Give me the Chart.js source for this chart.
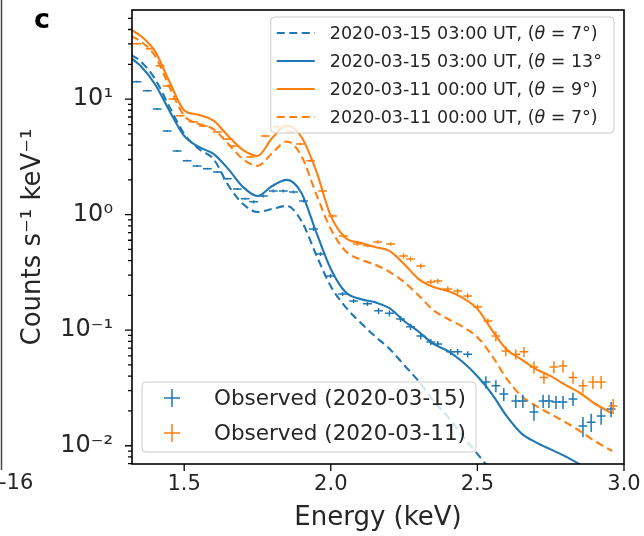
<!DOCTYPE html>
<html>
<head>
<meta charset="utf-8">
<script src="https://cdn.jsdelivr.net/npm/chart.js@4.4.1/dist/chart.umd.min.js"></script>
<style>
  html, body { margin: 0; padding: 0; background: #fff; }
  #wrap { width: 644px; height: 536px; position: relative; }
</style>
</head>
<body>
<div id="wrap"><canvas id="spectrumChart"></canvas></div>
<script>
const BLUE = '#1f77b4';
const ORANGE = '#ff7f0e';
const TEXT = '#262626';
const FONT = "'DejaVu Sans', sans-serif";

// ==========================
// DATA
// ==========================
const modelEnergy = [1.32, 1.35, 1.40, 1.45, 1.50, 1.55, 1.60, 1.65, 1.70, 1.75, 1.80, 1.85, 1.90, 1.95,
  2.00, 2.05, 2.10, 2.15, 2.20, 2.25, 2.30, 2.35, 2.40, 2.45, 2.50, 2.55, 2.60, 2.65, 2.70, 2.75,
  2.80, 2.85, 2.90, 2.96];

const model0315th7 = [24, 21.4, 15.0, 8.56, 5.0, 3.7, 3.03, 1.80, 1.24, 1.055, 1.12, 1.19, 0.88, 0.45,
  0.24, 0.159, 0.117, 0.089, 0.069, 0.050, 0.036, 0.0244, 0.0177, 0.0121, 0.0085, 0.0060, 0.0043];
const model0315th13 = [22.5, 19.5, 13.5, 7.9, 4.8, 3.85, 3.36, 2.49, 1.74, 1.45, 1.77, 2.0, 1.54, 0.708,
  0.339, 0.214, 0.186, 0.175, 0.155, 0.12, 0.097, 0.076, 0.066, 0.053, 0.040, 0.028, 0.018, 0.0128,
  0.0107, 0.0093, 0.0081, 0.0069, 0.0058, 0.0048];
const model0311th9 = [39.5, 35.5, 26, 14.1, 8.0, 7.3, 6.5, 4.8, 3.63, 3.22, 4.6, 5.9, 4.7, 2.4,
  0.974, 0.63, 0.57, 0.525, 0.485, 0.374, 0.277, 0.236, 0.218, 0.19, 0.153, 0.10, 0.068, 0.056,
  0.046, 0.040, 0.0336, 0.0286, 0.0232, 0.0190];
const model0311th7 = [35, 31.8, 23.7, 12.7, 7.16, 6.1, 5.5, 4.1, 3.03, 2.64, 3.4, 4.3, 3.22, 1.51,
  0.75, 0.485, 0.41, 0.37, 0.32, 0.261, 0.2, 0.149, 0.125, 0.107, 0.087, 0.060, 0.038, 0.027,
  0.0221, 0.0188, 0.016, 0.0134, 0.011, 0.0090];

const obsEnergy0315 = [1.339, 1.374, 1.408, 1.442, 1.476, 1.510, 1.544, 1.579, 1.613, 1.647, 1.681, 1.708,
  1.737, 1.770, 1.804, 1.838, 1.873, 1.907, 1.941, 1.965, 1.999, 2.040, 2.078, 2.125, 2.163, 2.200,
  2.238, 2.272, 2.307, 2.341, 2.365, 2.409, 2.433, 2.467, 2.529, 2.563, 2.590, 2.631, 2.655, 2.693,
  2.724, 2.744, 2.768, 2.792, 2.826, 2.860, 2.888, 2.922, 2.956];
const obsCounts0315 = [14.1, 11.8, 8.2, 5.3, 3.56, 2.92, 2.64, 2.49, 2.34, 2.04, 1.67, 1.37,
  1.29, 1.45, 1.60, 1.60, 1.57, 1.31, 0.75, 0.457, 0.295, 0.206, 0.179, 0.169, 0.147, 0.140,
  0.125, 0.107, 0.089, 0.079, 0.076, 0.065, 0.065, 0.062, 0.0356, 0.033, 0.028, 0.0244, 0.0244, 0.0196,
  0.0244, 0.0244, 0.0239, 0.0239, 0.0254, 0.0148, 0.016, 0.0181, 0.0208];
const obsErr0315 = [0.02, 0.02, 0.02, 0.02, 0.02, 0.02, 0.02, 0.02, 0.02, 0.02, 0.02, 0.02,
  0.03, 0.03, 0.03, 0.03, 0.03, 0.03, 0.04, 0.04, 0.04, 0.04, 0.04, 0.04, 0.06, 0.06,
  0.06, 0.06, 0.06, 0.06, 0.06, 0.06, 0.06, 0.06, 0.12, 0.12, 0.13, 0.13, 0.13, 0.16,
  0.13, 0.13, 0.13, 0.13, 0.13, 0.2, 0.18, 0.16, 0.15];

const obsEnergy0311 = [1.339, 1.384, 1.418, 1.442, 1.462, 1.486, 1.531, 1.565, 1.613, 1.647, 1.667, 1.726,
  1.777, 1.818, 1.862, 1.896, 1.931, 1.972, 2.006, 2.043, 2.091, 2.125, 2.160, 2.204, 2.248, 2.272,
  2.307, 2.341, 2.365, 2.399, 2.433, 2.467, 2.501, 2.536, 2.563, 2.597, 2.631, 2.659, 2.693, 2.727,
  2.761, 2.792, 2.826, 2.860, 2.894, 2.922, 2.963];
const obsCounts0311 = [30.1, 27.2, 19.4, 13.0, 10.0, 7.16, 6.35, 5.86, 5.20, 4.52, 3.93, 3.16,
  4.80, 5.75, 5.20, 4.09, 2.92, 1.60, 0.974, 0.654, 0.557, 0.54, 0.58, 0.557, 0.439, 0.413,
  0.36, 0.261, 0.266, 0.227, 0.218, 0.198, 0.159, 0.12, 0.089, 0.066, 0.062, 0.065, 0.048, 0.039,
  0.048, 0.049, 0.039, 0.033, 0.0356, 0.0356, 0.0221];
const obsErr0311 = [0.02, 0.02, 0.02, 0.02, 0.02, 0.02, 0.02, 0.02, 0.02, 0.02, 0.02, 0.02,
  0.025, 0.025, 0.025, 0.025, 0.025, 0.025, 0.035, 0.035, 0.035, 0.035, 0.035, 0.035, 0.05, 0.05,
  0.05, 0.05, 0.05, 0.05, 0.05, 0.05, 0.05, 0.05, 0.1, 0.1, 0.1, 0.1, 0.12, 0.12,
  0.12, 0.12, 0.12, 0.13, 0.13, 0.13, 0.15];
const binHalfWidth = 0.015; // keV

const modelLabels = [
  '2020-03-15 03:00 UT, (θ = 7°)',
  '2020-03-15 03:00 UT, (θ = 13°',
  '2020-03-11 00:00 UT, (θ = 9°)',
  '2020-03-11 00:00 UT, (θ = 7°)'
];
const obsLabels = ['Observed (2020-03-15)', 'Observed (2020-03-11)'];

const xTickValues = [1.5, 2.0, 2.5, 3.0];
const xTickLabels = ['1.5', '2.0', '2.5', '3.0'];
const yTickValues = [0.01, 0.1, 1, 10];
const yTickLabels = ['10⁻²', '10⁻¹', '10⁰', '10¹'];

// ==========================
// HELPERS
// ==========================
function pts(xs, ys){
  return xs.map((x, i) => ({ x, y: ys[i] })).filter(p => p.y != null);
}

function labelParts(text){
  const i = text.indexOf('θ');
  if(i < 0) return [{ t: text, it: false }];
  return [{ t: text.slice(0, i), it: false }, { t: 'θ', it: true }, { t: text.slice(i + 1), it: false }];
}

function drawLabel(ctx, text, x, y, size, measureOnly){
  const x0 = x;
  labelParts(text).forEach(p => {
    ctx.font = (p.it ? 'italic ' : '') + size + 'px ' + FONT;
    if(!measureOnly) ctx.fillText(p.t, x, y);
    x += ctx.measureText(p.t).width;
  });
  return x - x0;
}

function roundBox(ctx, x, y, w, h, r){
  ctx.beginPath();
  ctx.moveTo(x + r, y);
  ctx.lineTo(x + w - r, y); ctx.arcTo(x + w, y, x + w, y + r, r);
  ctx.lineTo(x + w, y + h - r); ctx.arcTo(x + w, y + h, x + w - r, y + h, r);
  ctx.lineTo(x + r, y + h); ctx.arcTo(x, y + h, x, y + h - r, r);
  ctx.lineTo(x, y + r); ctx.arcTo(x, y, x + r, y, r);
  ctx.closePath();
}

// ==========================
// PLUGIN: error bars, frame, ticks, legends
// ==========================
const decorPlugin = {
  id: 'decor',
  afterDatasetsDraw(chart){
    const { ctx, chartArea: a, scales: { x, y } } = chart;
    ctx.save();
    ctx.beginPath();
    ctx.rect(a.left, a.top, a.right - a.left, a.bottom - a.top);
    ctx.clip();
    ctx.lineWidth = 1.5;
    chart.data.datasets.forEach(ds => {
      if(!ds.errs) return;
      ctx.strokeStyle = ds.borderColor;
      ds.data.forEach((p, j) => {
        const px = x.getPixelForValue(p.x);
        const py = y.getPixelForValue(p.y);
        ctx.beginPath();
        ctx.moveTo(x.getPixelForValue(p.x - binHalfWidth), py);
        ctx.lineTo(x.getPixelForValue(p.x + binHalfWidth), py);
        ctx.moveTo(px, y.getPixelForValue(p.y * (1 - ds.errs[j])));
        ctx.lineTo(px, y.getPixelForValue(p.y * (1 + ds.errs[j])));
        ctx.stroke();
      });
    });
    ctx.restore();
  },
  afterDraw(chart){
    const { ctx, chartArea: a, scales: { x, y } } = chart;
    ctx.save();

    // tick marks
    ctx.strokeStyle = '#000';
    ctx.lineWidth = 1.3;
    ctx.beginPath();
    xTickValues.forEach(v => {
      const px = x.getPixelForValue(v);
      ctx.moveTo(px, a.bottom); ctx.lineTo(px, a.bottom + 7);
    });
    for(let d = 0.001; d <= 100; d *= 10){
      for(let k = 1; k <= 9; k++){
        const v = d * k;
        if(v < y.min || v > y.max) continue;
        const py = y.getPixelForValue(v);
        ctx.moveTo(a.left, py); ctx.lineTo(a.left - (k === 1 ? 7 : 4), py);
      }
    }
    ctx.stroke();

    // frame
    ctx.lineWidth = 1.6;
    ctx.strokeRect(a.left, a.top, a.right - a.left, a.bottom - a.top);

    // model legend (upper right)
    const models = chart.data.datasets.filter(d => !d.errs);
    const fs = 17.5;
    const textW = Math.max(...models.map(d => drawLabel(ctx, d.label, 0, 0, fs, true)));
    const boxW = 59 + textW + 12;
    const boxX = a.right - 10 - boxW, boxY = a.top + 7;
    roundBox(ctx, boxX, boxY, boxW, 116, 4);
    ctx.fillStyle = 'rgba(255,255,255,0.8)';
    ctx.fill();
    ctx.strokeStyle = '#cccccc';
    ctx.lineWidth = 1;
    ctx.stroke();
    ctx.textBaseline = 'middle';
    ctx.textAlign = 'left';
    models.forEach((d, i) => {
      const cy = boxY + 16 + i * 28;
      ctx.strokeStyle = d.borderColor;
      ctx.lineWidth = 2;
      ctx.setLineDash(d.borderDash || []);
      ctx.beginPath(); ctx.moveTo(boxX + 6, cy); ctx.lineTo(boxX + 44, cy); ctx.stroke();
      ctx.setLineDash([]);
      ctx.fillStyle = TEXT;
      drawLabel(ctx, d.label, boxX + 59, cy + 1, fs, false);
    });

    // observed legend (lower left)
    const obs = chart.data.datasets.filter(d => d.errs);
    const ofs = 21.5;
    ctx.font = ofs + 'px ' + FONT;
    const oW = Math.max(...obs.map(d => ctx.measureText(d.label).width));
    const oX = a.left + 10, oH = 70, oY = a.bottom - 12 - oH;
    roundBox(ctx, oX, oY, 72 + oW + 10, oH, 4);
    ctx.fillStyle = 'rgba(255,255,255,0.8)';
    ctx.fill();
    ctx.strokeStyle = '#cccccc';
    ctx.lineWidth = 1;
    ctx.stroke();
    obs.forEach((d, i) => {
      const cy = oY + 16 + i * 35;
      ctx.strokeStyle = d.borderColor;
      ctx.lineWidth = 1.5;
      ctx.beginPath();
      ctx.moveTo(oX + 22, cy); ctx.lineTo(oX + 38, cy);
      ctx.moveTo(oX + 30, cy - 9); ctx.lineTo(oX + 30, cy + 9);
      ctx.stroke();
      ctx.fillStyle = TEXT;
      ctx.font = ofs + 'px ' + FONT;
      ctx.fillText(d.label, oX + 72, cy + 1);
    });

    // panel letter and the cut-off neighbour panel
    ctx.fillStyle = '#000';
    ctx.font = 'bold 27px ' + FONT;
    ctx.textBaseline = 'alphabetic';
    ctx.fillText('c', 34, 28);
    ctx.fillStyle = TEXT;
    ctx.font = '21px ' + FONT;
    ctx.textBaseline = 'middle';
    ctx.fillText('-16', -1, 484);
    ctx.strokeStyle = '#444';
    ctx.lineWidth = 1.5;
    ctx.beginPath(); ctx.moveTo(1.5, 0); ctx.lineTo(1.5, 470); ctx.stroke();

    ctx.restore();
  }
};

// ==========================
// CHART
// ==========================
const modelStyle = { pointRadius: 0, borderWidth: 2.1, fill: false, cubicInterpolationMode: 'monotone', showLine: true };

new Chart(document.getElementById('spectrumChart'), {
  type: 'scatter',
  data: {
    datasets: [
      { ...modelStyle, label: modelLabels[0], data: pts(modelEnergy, model0315th7), borderColor: BLUE, borderDash: [8, 4.5] },
      { ...modelStyle, label: modelLabels[1], data: pts(modelEnergy, model0315th13), borderColor: BLUE },
      { ...modelStyle, label: modelLabels[2], data: pts(modelEnergy, model0311th9), borderColor: ORANGE },
      { ...modelStyle, label: modelLabels[3], data: pts(modelEnergy, model0311th7), borderColor: ORANGE, borderDash: [8, 4.5] },
      { label: obsLabels[0], data: pts(obsEnergy0315, obsCounts0315), errs: obsErr0315, borderColor: BLUE, pointRadius: 0, showLine: false },
      { label: obsLabels[1], data: pts(obsEnergy0311, obsCounts0311), errs: obsErr0311, borderColor: ORANGE, pointRadius: 0, showLine: false }
    ]
  },
  options: {
    responsive: true,
    maintainAspectRatio: false,
    animation: false,
    layout: { padding: { left: 0, right: 20, top: 10, bottom: 0 } },
    plugins: { legend: { display: false }, tooltip: { enabled: false } },
    scales: {
      x: {
        type: 'linear',
        min: 1.322,
        max: 3.0,
        afterBuildTicks: s => { s.ticks = xTickValues.map(v => ({ value: v })); },
        afterFit: s => { s.height = 72; s.paddingLeft = 0; s.paddingRight = 0; },
        grid: { display: false, drawTicks: false },
        border: { display: false },
        ticks: { color: TEXT, font: { family: FONT, size: 21 }, padding: 8, maxRotation: 0, autoSkip: false,
          callback: (v, i) => xTickLabels[i] },
        title: { display: true, text: 'Energy (keV)', color: TEXT, font: { family: FONT, size: 26 }, padding: { top: 0, bottom: 2 } }
      },
      y: {
        type: 'logarithmic',
        min: 0.00695,
        max: 59,
        afterBuildTicks: s => { s.ticks = yTickValues.map(v => ({ value: v })); },
        afterFit: s => { s.width = 132; s.paddingTop = 0; s.paddingBottom = 0; },
        grid: { display: false, drawTicks: false },
        border: { display: false },
        ticks: { color: TEXT, font: { family: FONT, size: 24 }, padding: 19, autoSkip: false,
          callback: (v, i) => yTickLabels[i] },
        title: { display: true, text: 'Counts s⁻¹ keV⁻¹', color: TEXT, font: { family: FONT, size: 26 }, padding: { top: 18, bottom: 0 } }
      }
    }
  },
  plugins: [decorPlugin]
});
</script>
</body>
</html>
